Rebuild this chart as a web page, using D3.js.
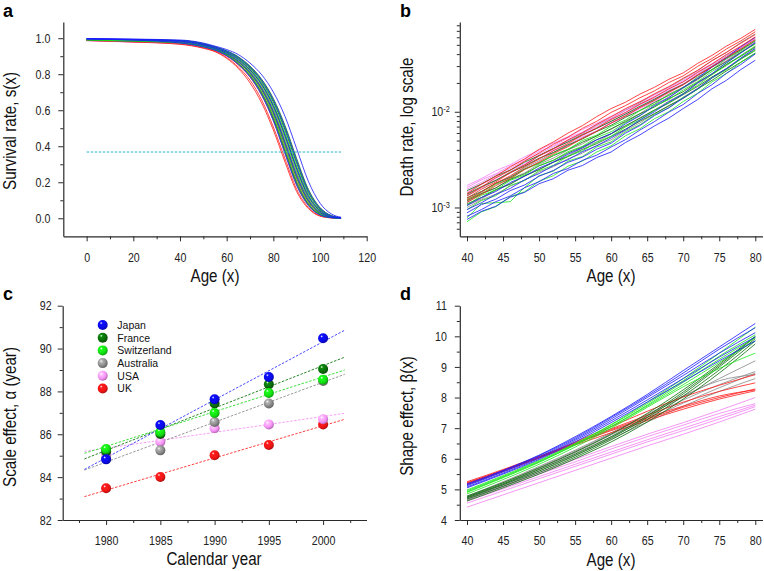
<!DOCTYPE html>
<html><head><meta charset="utf-8">
<script src="https://cdn.jsdelivr.net/npm/d3@7/dist/d3.min.js"></script>
<style>html,body{margin:0;padding:0;background:#fff;}</style>
</head><body>
<svg id="chart" width="764" height="571" xmlns="http://www.w3.org/2000/svg"></svg>
<script>
// ================= DATA =================
const countries = ["Japan", "France", "Switzerland", "Australia", "USA", "UK"];
const years = [1980, 1985, 1990, 1995, 2000];

// ---- panel a: survival rate s(x), one row per calendar year ----
const survivalAges = [0, 20, 40, 50, 55, 60, 65, 70, 75, 80, 85, 90, 95, 100, 105, 109];
const survivalJapan = [
  [0.995,0.989,0.974,0.952,0.934,0.903,0.855,0.786,0.685,0.543,0.361,0.184,0.072,0.019,0.0033,0.0005],
  [0.996,0.991,0.980,0.960,0.942,0.915,0.872,0.810,0.721,0.593,0.420,0.237,0.101,0.032,0.006,0.0013],
  [0.997,0.993,0.984,0.964,0.946,0.922,0.884,0.826,0.746,0.627,0.464,0.280,0.126,0.043,0.0088,0.0021],
  [0.997,0.994,0.987,0.968,0.951,0.929,0.894,0.841,0.767,0.657,0.504,0.320,0.153,0.056,0.013,0.003],
  [0.998,0.995,0.990,0.973,0.956,0.937,0.909,0.862,0.797,0.701,0.566,0.386,0.206,0.084,0.023,0.006]];
const survivalFrance = [
  [0.990,0.984,0.975,0.954,0.936,0.906,0.859,0.793,0.695,0.556,0.375,0.196,0.078,0.021,0.0038,0.0006],
  [0.992,0.986,0.978,0.958,0.940,0.912,0.868,0.804,0.713,0.581,0.405,0.223,0.093,0.027,0.005,0.001],
  [0.993,0.989,0.984,0.964,0.946,0.921,0.882,0.824,0.742,0.621,0.457,0.272,0.122,0.041,0.0082,0.0019],
  [0.994,0.990,0.986,0.967,0.949,0.927,0.891,0.836,0.759,0.646,0.490,0.305,0.143,0.051,0.011,0.0027],
  [0.995,0.991,0.987,0.970,0.952,0.930,0.897,0.845,0.772,0.665,0.515,0.331,0.161,0.060,0.014,0.0035]];
const survivalSwitzerland = [
  [0.991,0.985,0.975,0.954,0.936,0.907,0.860,0.794,0.697,0.560,0.379,0.200,0.080,0.022,0.004,0.0006],
  [0.992,0.987,0.979,0.958,0.940,0.913,0.869,0.805,0.715,0.584,0.409,0.227,0.095,0.028,0.0052,0.001],
  [0.993,0.988,0.982,0.962,0.944,0.918,0.879,0.818,0.734,0.610,0.442,0.258,0.113,0.036,0.007,0.0016],
  [0.994,0.990,0.985,0.966,0.948,0.924,0.887,0.831,0.752,0.635,0.475,0.290,0.133,0.046,0.0097,0.0023],
  [0.995,0.991,0.987,0.968,0.950,0.928,0.893,0.840,0.765,0.654,0.501,0.316,0.152,0.055,0.013,0.003]];
const survivalAustralia = [
  [0.988,0.982,0.972,0.951,0.933,0.903,0.853,0.785,0.683,0.540,0.357,0.181,0.070,0.018,0.003,0.0005],
  [0.990,0.984,0.975,0.954,0.936,0.907,0.860,0.794,0.697,0.560,0.379,0.200,0.080,0.022,0.004,0.0006],
  [0.991,0.986,0.980,0.960,0.942,0.916,0.875,0.812,0.725,0.598,0.427,0.244,0.105,0.032,0.0062,0.0013],
  [0.993,0.988,0.984,0.964,0.946,0.921,0.882,0.824,0.742,0.621,0.457,0.272,0.122,0.041,0.0082,0.0019],
  [0.994,0.990,0.987,0.968,0.950,0.928,0.892,0.838,0.763,0.651,0.497,0.312,0.148,0.054,0.012,0.003]];
const survivalUSA = [
  [0.986,0.978,0.968,0.948,0.930,0.900,0.856,0.791,0.692,0.553,0.372,0.193,0.077,0.020,0.0036,0.0005],
  [0.987,0.979,0.970,0.950,0.932,0.904,0.862,0.799,0.706,0.572,0.394,0.213,0.087,0.025,0.0045,0.0008],
  [0.988,0.981,0.972,0.952,0.934,0.908,0.868,0.808,0.719,0.590,0.416,0.234,0.099,0.030,0.0057,0.0012],
  [0.989,0.982,0.973,0.953,0.935,0.909,0.870,0.811,0.723,0.596,0.424,0.241,0.103,0.032,0.006,0.0013],
  [0.990,0.983,0.974,0.954,0.936,0.910,0.872,0.814,0.728,0.601,0.431,0.251,0.109,0.034,0.0065,0.0014]];
const survivalUK = [
  [0.987,0.979,0.966,0.944,0.925,0.888,0.832,0.752,0.640,0.490,0.312,0.148,0.054,0.012,0.002,0.0003],
  [0.988,0.980,0.969,0.947,0.928,0.893,0.840,0.767,0.657,0.507,0.331,0.161,0.060,0.014,0.0024,0.0004],
  [0.989,0.982,0.972,0.950,0.932,0.902,0.852,0.785,0.685,0.548,0.368,0.190,0.075,0.020,0.0035,0.0006],
  [0.990,0.983,0.974,0.952,0.934,0.905,0.860,0.795,0.700,0.564,0.386,0.206,0.084,0.023,0.0042,0.0007],
  [0.991,0.985,0.977,0.955,0.937,0.909,0.870,0.811,0.723,0.596,0.424,0.241,0.103,0.032,0.006,0.0013]];
const referenceLevel = 0.368;          // e^-1 dashed line
const referenceAges = [0, 109];

// ---- panel b: death rate per 1000 (log axis) ----
const deathAges = [40,42,44,46,48,50,52,54,56,58,60,62,64,66,68,70,72,74,76,78,80];
const deathJapan = [
  [1.05,1.27,1.47,1.82,2.12,2.58,2.98,3.60,4.20,5.08,5.90,7.50,9.10,11.6,14.0,17.9,22.3,29.4,36.6,47.9,60.0],
  [0.95,1.12,1.37,1.58,1.95,2.26,2.74,3.15,3.82,4.40,5.33,6.50,8.20,10.0,12.7,15.3,20.0,25.0,32.6,41.0,52.8],
  [0.88,1.07,1.22,1.50,1.72,2.12,2.44,2.96,3.35,4.06,4.70,5.98,7.18,9.10,11.0,13.9,17.4,22.6,28.3,36.4,46.0],
  [0.81,0.95,1.15,1.32,1.61,1.86,2.27,2.55,3.10,3.52,4.28,5.12,6.45,7.88,9.90,11.9,15.5,19.2,25.2,31.2,40.2],
  [0.75,0.91,1.03,1.28,1.44,1.77,2.00,2.45,2.74,3.32,3.80,4.78,5.74,7.10,8.58,10.8,13.4,17.4,21.3,27.6,34.5]];
const deathFrance = [
  [1.50,1.76,2.13,2.46,2.98,3.49,4.15,4.83,5.74,6.70,7.96,9.45,11.4,13.5,16.3,19.3,24.0,29.4,36.5,44.6,55.1],
  [1.38,1.65,1.92,2.31,2.71,3.26,3.76,4.50,5.20,6.22,7.22,8.76,10.3,12.5,14.8,18.0,22.0,27.6,33.4,41.8,51.5],
  [1.26,1.47,1.79,2.06,2.53,2.92,3.48,4.03,4.80,5.58,6.65,7.86,9.52,11.2,13.7,16.2,20.3,24.8,31.1,38.0,47.3],
  [1.17,1.40,1.60,1.96,2.25,2.72,3.11,3.71,4.29,5.11,5.90,7.16,8.55,10.4,12.3,15.1,18.4,23.1,28.0,35.5,43.6],
  [1.09,1.27,1.54,1.76,2.14,2.49,2.97,3.40,4.04,4.64,5.52,6.58,7.98,9.52,11.6,13.8,17.3,21.3,26.7,33.0,41.0]];
const deathSwitzerland = [
  [1.22,1.38,1.75,1.98,2.50,2.88,3.55,4.05,5.00,5.70,7.05,8.20,10.3,12.0,15.2,17.8,23.0,27.6,35.8,43.5,55.5],
  [1.05,1.34,1.52,1.92,2.18,2.74,3.12,3.82,4.35,5.38,6.18,7.70,9.15,11.4,13.4,16.9,20.6,26.4,32.2,41.6,51.0],
  [0.95,1.18,1.33,1.70,1.92,2.42,2.76,3.42,3.90,4.80,5.55,6.95,8.25,10.3,12.4,15.5,18.9,24.5,30.3,38.6,48.0],
  [0.78,1.10,1.12,1.15,1.62,2.15,2.40,3.05,3.40,4.28,4.85,6.20,7.30,9.30,11.0,14.1,17.1,22.5,27.5,35.8,44.0],
  [0.71,0.90,1.02,1.30,1.46,1.88,2.15,2.70,3.05,3.80,4.40,5.62,6.65,8.45,10.0,12.8,15.6,20.5,25.1,32.8,40.5]];
const deathAustralia = [
  [1.31,1.61,1.91,2.36,2.80,3.47,4.08,5.00,5.88,7.20,8.50,10.4,12.4,15.2,18.0,22.0,26.9,34.2,41.6,53.0,65.1],
  [1.21,1.44,1.79,2.10,2.60,3.08,3.76,4.38,5.34,6.28,7.66,9.10,11.1,13.2,16.4,19.4,24.5,30.1,38.3,46.6,58.8],
  [1.13,1.38,1.60,1.98,2.30,2.83,3.28,3.99,4.61,5.62,6.54,8.06,9.58,11.9,14.2,17.6,21.5,27.5,34.0,43.2,53.6],
  [1.05,1.23,1.51,1.75,2.14,2.49,3.00,3.47,4.18,4.85,5.87,7.04,8.68,10.4,12.9,15.5,19.8,24.4,31.2,38.7,48.8],
  [1.00,1.20,1.38,1.67,1.92,2.35,2.67,3.22,3.69,4.44,5.10,6.37,7.65,9.57,11.4,14.2,17.6,22.8,28.3,36.0,45.2]];
const deathUSA = [
  [1.70,2.00,2.42,2.80,3.38,3.97,4.72,5.48,6.52,7.60,9.00,10.6,12.8,15.0,18.0,21.2,26.3,31.8,39.5,47.7,59.0],
  [1.62,1.94,2.25,2.72,3.18,3.84,4.42,5.32,6.12,7.36,8.52,10.3,12.1,14.5,17.1,20.7,25.0,31.2,37.3,46.6,56.7],
  [1.55,1.83,2.20,2.56,3.10,3.62,4.33,5.02,5.98,6.95,8.31,9.75,11.8,13.8,16.7,19.6,24.5,29.6,36.9,44.5,55.1],
  [1.45,1.75,2.04,2.46,2.87,3.50,4.05,4.88,5.60,6.74,7.85,9.51,11.1,13.6,15.9,19.3,23.2,29.1,35.3,44.1,53.6],
  [1.37,1.61,1.96,2.28,2.79,3.26,3.93,4.55,5.45,6.32,7.59,8.88,10.8,12.7,15.4,18.0,22.6,27.4,34.2,41.6,51.5]];
const deathUK = [
  [1.40,1.75,2.12,2.66,3.22,4.05,4.85,5.98,7.15,8.90,10.8,12.6,15.3,18.0,21.8,25.5,32.0,38.8,48.5,58.5,72.5],
  [1.33,1.63,2.04,2.45,3.05,3.70,4.58,5.42,6.70,7.95,9.85,11.6,14.0,16.5,20.2,23.7,29.8,36.0,45.3,55.0,68.5],
  [1.25,1.55,1.85,2.31,2.78,3.46,4.12,5.08,6.02,7.40,8.85,10.8,12.7,15.4,18.3,22.4,27.1,34.2,41.8,52.0,64.0],
  [1.19,1.45,1.79,2.14,2.66,3.20,3.92,4.66,5.70,6.78,8.30,9.85,12.0,14.2,17.4,20.5,25.8,31.5,39.6,48.5,60.5],
  [1.13,1.37,1.69,2.02,2.49,2.98,3.65,4.32,5.27,6.25,7.62,9.05,11.1,13.1,16.0,19.1,24.1,29.4,36.9,45.5,56.8]];

// ---- panel c: scale effect alpha (year) ----
const scaleJapan       = [84.83, 86.43, 87.63, 88.67, 90.48];
const scaleFrance      = [85.20, 86.01, 87.44, 88.33, 89.05];
const scaleSwitzerland = [85.31, 86.10, 86.99, 87.93, 88.55];
const scaleAustralia   = [84.85, 85.25, 86.57, 87.44, 88.49];
const scaleUSA         = [85.06, 85.65, 86.28, 86.46, 86.70];
const scaleUK          = [83.48, 84.01, 85.02, 85.50, 86.46];
const trendYears       = [1978, 2002];
const trendJapan       = [84.36, 90.86];
const trendFrance      = [84.85, 89.60];
const trendSwitzerland = [85.11, 89.00];
const trendAustralia   = [84.33, 88.80];
const trendUSA         = [85.20, 86.98];
const trendUK          = [83.09, 86.70];

// ---- panel d: shape effect beta(x) ----
const shapeAges = [40, 45, 50, 55, 60, 65, 70, 75, 80];
const shapeJapan = [
  [5.05,5.50,5.98,6.55,7.18,7.85,8.52,9.20,9.85],
  [5.08,5.53,6.02,6.60,7.24,7.92,8.62,9.32,9.98],
  [5.12,5.57,6.06,6.64,7.30,8.00,8.72,9.45,10.12],
  [5.15,5.60,6.10,6.68,7.35,8.05,8.80,9.58,10.28],
  [5.18,5.62,6.12,6.72,7.38,8.10,8.88,9.65,10.42]];
const shapeFrance = [
  [4.62,5.05,5.50,6.00,6.55,7.20,7.95,8.80,9.75],
  [4.68,5.10,5.55,6.05,6.62,7.28,8.05,8.90,9.85],
  [4.72,5.15,5.60,6.10,6.68,7.35,8.12,9.00,9.92],
  [4.75,5.18,5.65,6.15,6.72,7.40,8.18,9.05,9.98],
  [4.78,5.22,5.70,6.22,6.80,7.48,8.25,9.10,10.00]];
const shapeSwitzerland = [
  [4.85,5.32,5.82,6.38,7.00,7.68,8.35,8.95,9.45],
  [4.90,5.38,5.88,6.45,7.05,7.72,8.42,9.15,9.85],
  [4.95,5.42,5.92,6.48,7.10,7.80,8.55,9.35,10.05],
  [4.98,5.45,5.95,6.50,7.12,7.85,8.62,9.45,10.30],
  [4.92,5.40,5.90,6.45,7.05,7.75,8.50,9.25,9.95]];
const shapeAustralia = [
  [4.65,5.10,5.60,6.12,6.65,7.20,7.72,8.20,8.62],
  [4.70,5.15,5.65,6.18,6.72,7.28,7.82,8.32,8.80],
  [4.72,5.18,5.68,6.22,6.78,7.35,7.92,8.42,8.85],
  [4.75,5.22,5.72,6.25,6.82,7.42,8.02,8.62,9.20],
  [4.78,5.25,5.75,6.28,6.85,7.45,8.05,8.55,8.75]];
const shapeUSA = [
  [4.42,4.82,5.22,5.62,6.02,6.42,6.80,7.20,7.62],
  [4.55,4.95,5.35,5.75,6.15,6.55,6.92,7.30,7.70],
  [4.62,5.02,5.42,5.82,6.22,6.62,7.00,7.38,7.75],
  [4.68,5.08,5.50,5.90,6.32,6.72,7.10,7.48,7.80],
  [4.72,5.12,5.55,5.98,6.40,6.80,7.18,7.58,8.00]];
const shapeUK = [
  [5.22,5.62,6.05,6.45,6.85,7.25,7.62,7.95,8.22],
  [5.25,5.65,6.08,6.50,6.92,7.30,7.68,8.00,8.28],
  [5.20,5.62,6.05,6.52,6.98,7.42,7.85,8.20,8.48],
  [5.18,5.60,6.05,6.55,7.05,7.55,8.02,8.40,8.75],
  [5.15,5.58,6.02,6.48,6.95,7.35,7.72,8.05,8.25]];

// ---- tick values ----
const ticksAX = [0, 20, 40, 60, 80, 100, 120];
const ticksAXminor = [10, 30, 50, 70, 90, 110];
const ticksAY = [0, 0.2, 0.4, 0.6, 0.8, 1.0];
const ticksAYminor = [0.1, 0.3, 0.5, 0.7, 0.9];
const ticksAgeX = [40, 45, 50, 55, 60, 65, 70, 75, 80];
const ticksAgeXminor = [42.5, 47.5, 52.5, 57.5, 62.5, 67.5, 72.5, 77.5];
const ticksBY = [1, 10];
const ticksBYminor = [0.6, 0.7, 0.8, 0.9, 2, 3, 4, 5, 6, 7, 8, 9, 20, 30, 40, 50, 60, 70, 80];
const ticksBYlabels = ["-3", "-2"];
const ticksCX = [1980, 1985, 1990, 1995, 2000];
const ticksCXminor = [1977.5, 1982.5, 1987.5, 1992.5, 1997.5, 2002.5];
const ticksCY = [82, 84, 86, 88, 90, 92];
const ticksCYminor = [83, 85, 87, 89, 91];
const ticksDY = [4, 5, 6, 7, 8, 9, 10, 11];
const ticksDYminor = [4.5, 5.5, 6.5, 7.5, 8.5, 9.5, 10.5];

// ================= STYLE =================
const lineColor = {Japan:"#1a1aff", France:"#0b6e0b", Switzerland:"#1ee61e", Australia:"#8a8a8a", USA:"#f27ff2", UK:"#ff1a1a"};
const ballColor = {Japan:"#0a0ae6", France:"#0a6a0a", Switzerland:"#12e012", Australia:"#888888", USA:"#f590f5", UK:"#f01414"};
const trendColor = {Japan:"#4a4aff", France:"#2a862a", Switzerland:"#3ee03e", Australia:"#9a9a9a", USA:"#f7a0f7", UK:"#ff4040"};

function hasFont(name) {
  const c = document.createElement("canvas").getContext("2d");
  const s = "abcdefghijklmnopqrstuvwxyz0123456789ABCDEF";
  c.font = "40px monospace"; const w0 = c.measureText(s).width;
  c.font = `40px "${name}", monospace`; const w1 = c.measureText(s).width;
  return Math.abs(w1 - w0) > 0.5;
}
const NARROW = hasFont("Liberation Sans Narrow");
const FONT = NARROW ? '"Liberation Sans Narrow", "Arial Narrow", sans-serif' : '"Liberation Sans", Arial, sans-serif';
const SX = NARROW ? 1 : 0.82;
const AXIS_COLOR = "#2a2a2a";

const svg = d3.select("#chart");
svg.append("rect").attr("width", 764).attr("height", 571).attr("fill", "#fff");

function squeeze(sel) {
  if (SX === 1) return;
  sel.each(function () {
    const t = d3.select(this);
    const x = +t.attr("x") || 0;
    t.attr("transform", `translate(${x},0) scale(${SX},1) translate(${-x},0)`);
  });
}

function drawAxes(x, y, o) {
  const y0 = y.range()[0], x0 = x.range()[0];
  const gxm = svg.append("g").attr("transform", `translate(0,${y0})`)
    .call(d3.axisBottom(x).tickValues(o.xMinor).tickSize(3).tickFormat(""));
  gxm.select(".domain").remove();
  const gym = svg.append("g").attr("transform", `translate(${x0},0)`)
    .call(d3.axisLeft(y).tickValues(o.yMinor).tickSize(3).tickFormat(""));
  gym.select(".domain").remove();
  const gx = svg.append("g").attr("transform", `translate(0,${y0})`)
    .call(d3.axisBottom(x).tickValues(o.xMajor).tickSize(5).tickSizeOuter(0).tickPadding(11).tickFormat(o.xFmt));
  const gy = svg.append("g").attr("transform", `translate(${x0},0)`)
    .call(d3.axisLeft(y).tickValues(o.yMajor).tickSize(5).tickSizeOuter(0).tickPadding(o.yPad).tickFormat(o.yFmt));
  [gxm, gym, gx, gy].forEach(g => {
    g.selectAll("line").attr("stroke", AXIS_COLOR).attr("stroke-width", 1);
    g.selectAll(".domain").attr("stroke", AXIS_COLOR).attr("stroke-width", 1.2);
    g.selectAll("text").attr("font-family", FONT).attr("font-size", 13).attr("fill", "#222");
  });
  squeeze(gx.selectAll("text"));
  squeeze(gy.selectAll("text"));
  return {gx, gy};
}

function hLabel(x, y, txt, size) {
  svg.append("text").attr("transform", `translate(${x},${y}) scale(${SX},1)`)
    .attr("text-anchor", "middle").attr("font-family", FONT).attr("font-size", size).attr("fill", "#111").text(txt);
}
function vLabel(x, y, txt, size) {
  svg.append("text").attr("transform", `translate(${x},${y}) rotate(-90) scale(${SX},1)`)
    .attr("text-anchor", "middle").attr("font-family", FONT).attr("font-size", size).attr("fill", "#111").text(txt);
}
function panelLetter(x, y, t) {
  svg.append("text").attr("x", x).attr("y", y).attr("font-family", '"Liberation Sans", Arial, sans-serif')
    .attr("font-weight", "bold").attr("font-size", 18).attr("fill", "#000").text(t);
}

function drawLines(xs, ys, ages, table, order, curve) {
  const g = svg.append("g");
  const line = d3.line().x((d, i) => xs(ages[i])).y(d => ys(d)).curve(curve);
  order.forEach(c => table[c].forEach(vals => {
    g.append("path").attr("d", line(vals)).attr("fill", "none")
      .attr("stroke", lineColor[c]).attr("stroke-width", 0.9).attr("stroke-opacity", 0.9);
  }));
}

// ================= PANEL A =================
const survival = {Japan: survivalJapan, France: survivalFrance, Switzerland: survivalSwitzerland,
                  Australia: survivalAustralia, USA: survivalUSA, UK: survivalUK};
const xA = d3.scaleLinear().domain([-10, 120]).range([63.3, 366.7]);
const yA = d3.scaleLinear().domain([-0.1, 1.09]).range([236.3, 22]);
drawAxes(xA, yA, {xMajor: ticksAX, xMinor: ticksAXminor, yMajor: ticksAY, yMinor: ticksAYminor,
  xFmt: d3.format("d"), yFmt: d3.format(".1f"), yPad: 8});
drawLines(xA, yA, survivalAges, survival, ["USA", "UK", "Australia", "France", "Switzerland", "Japan"], d3.curveMonotoneX);
svg.append("line").attr("x1", xA(referenceAges[0])).attr("x2", xA(referenceAges[1]))
  .attr("y1", yA(referenceLevel)).attr("y2", yA(referenceLevel))
  .attr("stroke", "#2fb5c8").attr("stroke-width", 1).attr("stroke-dasharray", "2.5,1.5");
hLabel(215, 282, "Age (x)", 18.5);
vLabel(16, 131, "Survival rate, s(x)", 18.5);
panelLetter(3, 17, "a");

// ================= PANEL B =================
const death = {Japan: deathJapan, France: deathFrance, Switzerland: deathSwitzerland,
               Australia: deathAustralia, USA: deathUSA, UK: deathUK};
const xB = d3.scaleLinear().domain([39, 81]).range([459.8, 762.5]);
const yB = d3.scaleLog().domain([0.5, 86.6]).range([236.3, 22]);
const axB = drawAxes(xB, yB, {xMajor: ticksAgeX, xMinor: ticksAgeXminor, yMajor: ticksBY, yMinor: ticksBYminor,
  xFmt: d3.format("d"), yFmt: () => "", yPad: 5});
axB.gy.selectAll(".tick text").each(function (d, i) {
  const t = d3.select(this);
  t.text(null).attr("font-size", 13);
  t.append("tspan").text("10");
  t.append("tspan").attr("dy", "-0.5em").attr("font-size", 9).text(ticksBYlabels[i]);
});
drawLines(xB, yB, deathAges, death, ["Australia", "USA", "France", "Switzerland", "Japan", "UK"], d3.curveLinear);
hLabel(611, 282, "Age (x)", 18.5);
vLabel(413, 127, "Death rate,  log scale", 18.5);
panelLetter(400, 17, "b");

// ================= PANEL C =================
const scale = {Japan: scaleJapan, France: scaleFrance, Switzerland: scaleSwitzerland,
               Australia: scaleAustralia, USA: scaleUSA, UK: scaleUK};
const trend = {Japan: trendJapan, France: trendFrance, Switzerland: trendSwitzerland,
               Australia: trendAustralia, USA: trendUSA, UK: trendUK};
const xC = d3.scaleLinear().domain([1976, 2004]).range([62.7, 366.5]);
const yC = d3.scaleLinear().domain([82, 92]).range([520, 305.7]);
drawAxes(xC, yC, {xMajor: ticksCX, xMinor: ticksCXminor, yMajor: ticksCY, yMinor: ticksCYminor,
  xFmt: d3.format("d"), yFmt: d3.format("d"), yPad: 6});

const defs = svg.append("defs");
countries.forEach(c => {
  const base = d3.color(ballColor[c]);
  const gr = defs.append("radialGradient").attr("id", "ball-" + c)
    .attr("cx", "40%").attr("cy", "38%").attr("r", "62%").attr("fx", "35%").attr("fy", "30%");
  gr.append("stop").attr("offset", "0%").attr("stop-color", "#ffffff");
  gr.append("stop").attr("offset", "22%").attr("stop-color", base.brighter(0.8).formatHex());
  gr.append("stop").attr("offset", "70%").attr("stop-color", base.formatHex());
  gr.append("stop").attr("offset", "100%").attr("stop-color", base.darker(0.9).formatHex());
});
const orderC = ["UK", "USA", "Australia", "France", "Switzerland", "Japan"];
const gTrend = svg.append("g");
orderC.forEach(c => {
  gTrend.append("line").attr("x1", xC(trendYears[0])).attr("x2", xC(trendYears[1]))
    .attr("y1", yC(trend[c][0])).attr("y2", yC(trend[c][1]))
    .attr("stroke", trendColor[c]).attr("stroke-width", 1).attr("stroke-dasharray", "2.5,1.5");
});
const gBalls = svg.append("g");
orderC.forEach(c => {
  gBalls.selectAll(null).data(scale[c]).enter().append("circle")
    .attr("cx", (d, i) => xC(years[i])).attr("cy", d => yC(d)).attr("r", 5)
    .attr("fill", `url(#ball-${c})`);
});
const gLeg = svg.append("g");
countries.forEach((c, i) => {
  const yy = 325 + i * 12.7;
  gLeg.append("circle").attr("cx", 102.7).attr("cy", yy).attr("r", 5).attr("fill", `url(#ball-${c})`);
  gLeg.append("text").attr("x", 117.3).attr("y", yy + 3.8).attr("font-family", '"Liberation Sans", Arial, sans-serif')
    .attr("font-size", 10.5).attr("fill", "#111").text(c);
});
hLabel(214, 565, "Calendar year", 18.5);
vLabel(16, 417, "Scale effect, α (year)", 18.5);
panelLetter(3, 300, "c");

// ================= PANEL D =================
const shape = {Japan: shapeJapan, France: shapeFrance, Switzerland: shapeSwitzerland,
               Australia: shapeAustralia, USA: shapeUSA, UK: shapeUK};
const xD = d3.scaleLinear().domain([39, 81]).range([459.8, 762.5]);
const yD = d3.scaleLinear().domain([4, 11]).range([520, 305.7]);
drawAxes(xD, yD, {xMajor: ticksAgeX, xMinor: ticksAgeXminor, yMajor: ticksDY, yMinor: ticksDYminor,
  xFmt: d3.format("d"), yFmt: d3.format("d"), yPad: 8});
drawLines(xD, yD, shapeAges, shape, ["USA", "Australia", "UK", "France", "Switzerland", "Japan"], d3.curveMonotoneX);
hLabel(611, 566, "Age (x)", 18.5);
vLabel(413, 416, "Shape effect, β(x)", 18.5);
panelLetter(400, 300, "d");
</script>
</body></html>
